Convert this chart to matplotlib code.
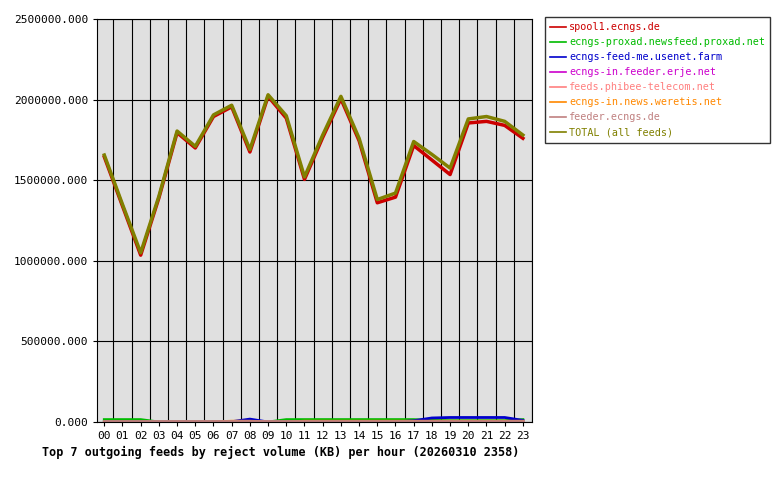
import matplotlib
matplotlib.use("Agg")
import matplotlib.pyplot as plt
import numpy as np

hours = [f"{h:02d}" for h in range(24)]
total = [1656, 1350, 1050, 1400, 1805, 1710, 1905, 1965, 1690, 2030, 1900, 1520,
         1780, 2020, 1760, 1380, 1420, 1740, 1660, 1575, 1880, 1895, 1865, 1780]
total = [v * 1000 for v in total]
spool1 = [1645, 1340, 1035, 1390, 1795, 1700, 1895, 1955, 1675, 2020, 1885, 1505,
          1765, 2005, 1745, 1360, 1395, 1715, 1625, 1535, 1855, 1865, 1840, 1760]
spool1 = [v * 1000 for v in spool1]
green = [15000, 15000, 15000, 0, 0, 0, 0, 0, 0, 0, 15000, 15000,
         15000, 15000, 15000, 15000, 15000, 15000, 10000, 8000, 8000, 8000, 8000, 15000]
blue = [0, 0, 0, 0, 0, 0, 0, 2000, 18000, 0, 0, 0,
        0, 0, 0, 0, 0, 8000, 25000, 28000, 28000, 28000, 28000, 10000]
orange = [0, 0, 0, 0, 0, 0, 0, 5000, 5000, 0, 0, 5000,
          5000, 5000, 5000, 5000, 5000, 5000, 5000, 5000, 5000, 5000, 5000, 5000]
rose = [5000] * 24
zero = [0] * 24

series = [
    ("spool1.ecngs.de", spool1, "#cc0000"),
    ("ecngs-proxad.newsfeed.proxad.net", green, "#00bb00"),
    ("ecngs-feed-me.usenet.farm", blue, "#0000cc"),
    ("ecngs-in.feeder.erje.net", zero, "#cc00cc"),
    ("feeds.phibee-telecom.net", zero, "#ff8080"),
    ("ecngs-in.news.weretis.net", orange, "#ff8800"),
    ("feeder.ecngs.de", rose, "#c08080"),
    ("TOTAL (all feeds)", total, "#808000"),
]

plt.rcParams["font.family"] = "DejaVu Sans Mono"
fig = plt.figure(figsize=(7.8, 4.8), dpi=100)
ax = fig.add_axes([97 / 780, 58 / 480, 435 / 780, 403 / 480])
ax.set_facecolor("#e0e0e0")
x = np.arange(24)
for name, vals, col in series:
    lw = 2.5 if name.startswith(("spool1", "TOTAL")) else 2
    ax.plot(x, vals, color=col, lw=lw, label=name)

ax.set_xlim(-0.4, 23.4)
ax.set_ylim(0, 2500000)
ax.set_xticks(x)
ax.set_xticklabels(hours, fontsize=8)
ax.set_yticks(np.arange(0, 2500001, 500000))
ax.set_yticklabels([f"{v:.3f}" for v in np.arange(0, 2500001, 500000)], fontsize=8)
ax.set_xticks(x + 0.5, minor=True)
ax.tick_params(which="minor", length=0)
ax.grid(True, which="minor", axis="x", color="black", lw=0.8)
ax.grid(True, which="major", axis="y", color="black", lw=0.8)
ax.tick_params(which="major", length=3)
ax.set_axisbelow(True)

leg = fig.legend(loc="upper left", bbox_to_anchor=(545 / 780, 1 - 17 / 480),
                 prop={"size": 7.3}, frameon=True, fancybox=False, edgecolor="black",
                 handlelength=1.6, handletextpad=0.3, labelspacing=0.5,
                 borderpad=0.5, borderaxespad=0)
leg.get_frame().set_linewidth(1)
for txt, (_, _, col) in zip(leg.get_texts(), series):
    txt.set_color(col)
for h in leg.get_lines():
    h.set_linewidth(1.2)

fig.text(42 / 780, 1 - 452 / 480,
         "Top 7 outgoing feeds by reject volume (KB) per hour (20260310 2358)",
         fontsize=8.5, fontweight="bold", va="center")
fig.savefig("out.png", dpi=100)
